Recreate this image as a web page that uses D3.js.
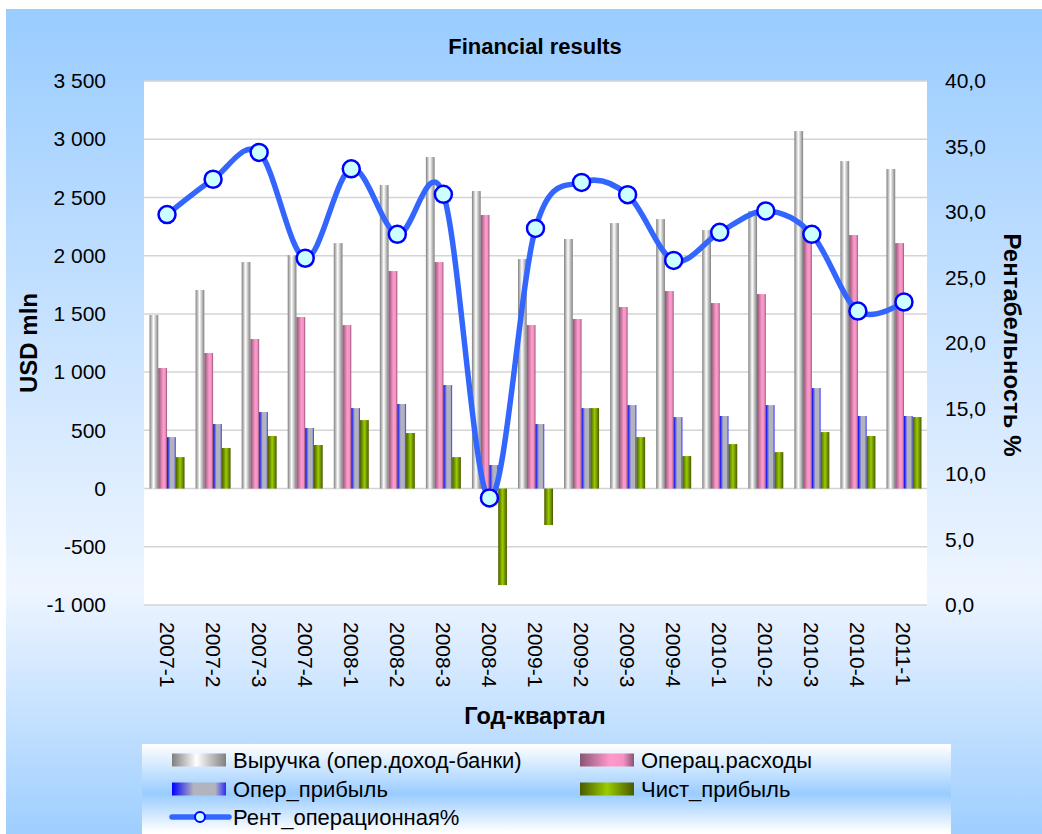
<!DOCTYPE html>
<html><head><meta charset="utf-8">
<script src="https://cdn.jsdelivr.net/npm/d3@7/dist/d3.min.js"></script>
<style>body{margin:0;background:#fff}svg{display:block;font-family:"Liberation Sans",Arial,sans-serif}</style>
</head><body><svg id="c" width="1042" height="834"></svg>
<script>
const categories=["2007-1","2007-2","2007-3","2007-4","2008-1","2008-2","2008-3","2008-4","2009-1","2009-2","2009-3","2009-4","2010-1","2010-2","2010-3","2010-4","2011-1"];
const revenue=[1490,1705,1945,2005,2108,2606,2847,2555,1971,2143,2280,2314,2220,2383,3070,2812,2744];
const opex=[1035,1164,1284,1473,1404,1868,1945,2349,1404,1456,1559,1696,1593,1670,2150,2177,2108];
const opProfit=[442,554,657,520,691,726,889,202,554,691,717,614,623,717,863,623,623];
const netProfit=[270,348,451,374,588,477,270,-829,-313,691,442,279,382,313,485,451,614];
const profitability=[29.8,32.5,34.55,26.47,33.3,28.3,31.35,8.17,28.75,32.26,31.32,26.3,28.45,30.08,28.3,22.44,23.13];
const leftTicks=[-1000,-500,0,500,1000,1500,2000,2500,3000,3500];
const rightTicks=[0,5,10,15,20,25,30,35,40];
const seriesNames=["Выручка (опер.доход-банки)","Операц.расходы","Опер_прибыль","Чист_прибыль"];
const lineName="Рент_операционная%";

const svg=d3.select("#c");
const defs=svg.append("defs");
function grad(id,stops,vertical){
  const g=defs.append("linearGradient").attr("id",id);
  if(vertical) g.attr("x1",0).attr("y1",0).attr("x2",0).attr("y2",1);
  else g.attr("x1",0).attr("y1",0).attr("x2",1).attr("y2",0);
  stops.forEach(s=>g.append("stop").attr("offset",s[0]).attr("stop-color",s[1]));
}
grad("bg",[[0,"#99ccff"],[0.69,"#eef5ff"],[1,"#99ccff"]],true);
grad("lg",[[0,"#ffffff"],[0.5,"#99ccff"],[0.88,"#ffffff"],[1,"#ffffff"]],true);
grad("g0",[[0,"#7f7f7f"],[0.45,"#ffffff"],[1,"#808080"]]);
grad("g1",[[0,"#8a5572"],[0.55,"#ff99cc"],[0.8,"#f592c4"],[1,"#8a5572"]]);
grad("g2",[[0,"#0000ff"],[0.4,"#b3b3bd"],[0.8,"#b3b3bd"],[1,"#2a2aff"]]);
grad("g3",[[0,"#4a5a00"],[0.5,"#99cc00"],[1,"#4a5a00"]]);
const fills=["url(#g0)","url(#g1)","url(#g2)","url(#g3)"];

svg.append("rect").attr("x",6).attr("y",9).attr("width",1042).attr("height",840).attr("fill","url(#bg)");

const L=144,R=927,T=81,B=605;
svg.append("rect").attr("x",L).attr("y",T).attr("width",R-L).attr("height",B-T).attr("fill","#fff");

const y=d3.scaleLinear().domain([-1000,3500]).range([B,T]);
const y2=d3.scaleLinear().domain([0,40]).range([B,T]);
const x0=d3.scaleBand().domain(categories).range([L,R]).padding(0);
const gw=x0.bandwidth()*0.76;
const x1=d3.scaleBand().domain(d3.range(4)).range([0,gw]).padding(0);
const off=(x0.bandwidth()-gw)/2;

// grid
svg.append("g").selectAll("line").data(leftTicks).join("line")
  .attr("x1",L).attr("x2",R).attr("y1",d=>y(d)).attr("y2",d=>y(d))
  .attr("stroke","#d4d4d4").attr("stroke-width",1.5);

// bars
const data=[revenue,opex,opProfit,netProfit];
data.forEach((arr,si)=>{
  svg.append("g").selectAll("rect").data(arr).join("rect")
    .attr("x",(d,i)=>x0(categories[i])+off+x1(si))
    .attr("width",x1.bandwidth())
    .attr("y",d=>y(Math.max(0,d)))
    .attr("height",d=>Math.abs(y(d)-y(0)))
    .attr("fill",fills[si]);
});

// line
const line=d3.line().x((d,i)=>x0(categories[i])+x0.bandwidth()/2).y(d=>y2(d)).curve(d3.curveCardinal.tension(0));
svg.append("path").datum(profitability).attr("d",line).attr("fill","none").attr("stroke","#3366ff").attr("stroke-width",5.5).attr("stroke-linejoin","round");
svg.append("g").selectAll("circle").data(profitability).join("circle")
  .attr("cx",(d,i)=>x0(categories[i])+x0.bandwidth()/2).attr("cy",d=>y2(d)).attr("r",8.5)
  .attr("fill","#ccffff").attr("stroke","#0000ff").attr("stroke-width",2.5);

// axes
const fmtL=v=>d3.format(",")(v).replace(/,/g," ").replace("\u2212","-");
const fmtR=v=>d3.format(".1f")(v).replace(".",",");
const axL=svg.append("g").attr("transform",`translate(${L-35},0)`).call(d3.axisLeft(y).tickValues(leftTicks).tickFormat(fmtL).tickSize(0));
axL.select(".domain").remove();
axL.selectAll("text").attr("font-size",21).attr("fill","#000").attr("font-family","Liberation Sans, Arial");
const axR=svg.append("g").attr("transform",`translate(${R+15},0)`).call(d3.axisRight(y2).tickValues(rightTicks).tickFormat(fmtR).tickSize(0));
axR.select(".domain").remove();
axR.selectAll("text").attr("font-size",21).attr("fill","#000").attr("font-family","Liberation Sans, Arial");

svg.append("g").selectAll("text").data(categories).join("text")
  .attr("transform",d=>`translate(${x0(d)+x0.bandwidth()/2},622) rotate(90)`)
  .attr("dominant-baseline","central").attr("font-size",21).text(d=>d);

svg.append("text").attr("x",535).attr("y",46).attr("text-anchor","middle").attr("dominant-baseline","central")
  .attr("font-size",22).attr("font-weight","bold").text("Financial results");
svg.append("text").attr("transform","translate(28,343) rotate(-90)").attr("text-anchor","middle").attr("dominant-baseline","central")
  .attr("font-size",24).attr("font-weight","bold").text("USD mln");
svg.append("text").attr("transform","translate(1012,345) rotate(90)").attr("text-anchor","middle").attr("dominant-baseline","central")
  .attr("font-size",24).attr("font-weight","bold").text("Рентабельность %");
svg.append("text").attr("x",535).attr("y",716).attr("text-anchor","middle").attr("dominant-baseline","central")
  .attr("font-size",23.5).attr("font-weight","bold").text("Год-квартал");

// legend
svg.append("rect").attr("x",142).attr("y",744).attr("width",809).attr("height",100).attr("fill","url(#lg)");
const legPos=[[172,760],[580,760],[172,789],[580,789]];
seriesNames.forEach((n,i)=>{
  const [lx,ly]=legPos[i];
  svg.append("rect").attr("x",lx).attr("y",ly-6.5).attr("width",54).attr("height",13).attr("fill",fills[i]);
  svg.append("text").attr("x",lx+61).attr("y",ly).attr("dominant-baseline","central").attr("font-size",22).text(n);
});
svg.append("line").attr("x1",172).attr("x2",229).attr("y1",817).attr("y2",817).attr("stroke","#3366ff").attr("stroke-width",5.5).attr("stroke-linecap","round");
svg.append("circle").attr("cx",200).attr("cy",817).attr("r",5).attr("fill","#ccffff").attr("stroke","#0000ff").attr("stroke-width",2);
svg.append("text").attr("x",233).attr("y",817).attr("dominant-baseline","central").attr("font-size",22).text(lineName);
</script></body></html>
